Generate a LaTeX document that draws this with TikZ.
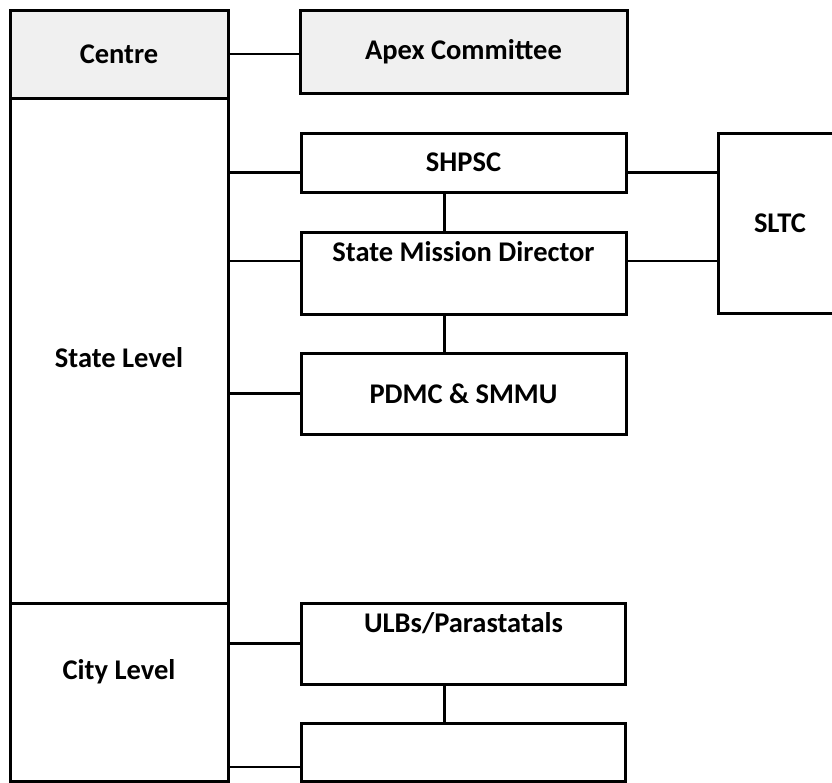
\documentclass[tikz,border=0pt]{standalone}
\usepackage{fontspec}
\setmainfont{Carlito}
\usepackage{tikz}
\usetikzlibrary{calc}

\tikzset{
  unit/.style={draw, line width=3pt, inner sep=0pt, font=\fontsize{28.5}{32}\selectfont\bfseries},
  shaded/.style={unit, fill=gray!12},
  txt/.style={inner sep=0pt, font=\fontsize{28.5}{32}\selectfont\bfseries},
  link/.style={line width=2.6pt}
}

\begin{document}
\begin{tikzpicture}[x=1pt,y=-1pt]
\useasboundingbox (0,0) rectangle (832,782);

\node[shaded, minimum width=218pt, minimum height=88pt] (centre) at (119,54) {Centre};			% Centre
\node[unit, minimum width=218pt, minimum height=505pt] (state) at (119,350.5) {};				% State Level
\node[txt] (statetxt) at (119,358) {State Level};
\node[unit, minimum width=218pt, minimum height=178pt] (city) at (119,692) {};				% City Level
\node[txt] (citytxt) at (119,672) {City Level};

\node[shaded, minimum width=327pt, minimum height=83pt] (apex) at (463.5,51.5) {Apex Committee};	% Apex Committee
\node[unit, minimum width=325pt, minimum height=59pt] (shpsc) at (463.5,162.5) {SHPSC};		% SHPSC
\node[unit, minimum width=325pt, minimum height=82pt] (smd) at (463.5,273) {};				% State Mission Director
\node[txt] (smdtxt) at (463.5,252) {State Mission Director};
\node[unit, minimum width=325pt, minimum height=81pt] (pdmc) at (463.5,393.5) {PDMC \& SMMU};	% PDMC & SMMU
\node[unit, minimum width=124pt, minimum height=180pt] (sltc) at (780,223) {SLTC};			% SLTC (rechts angeschnitten)
\node[unit, minimum width=324pt, minimum height=81pt] (ulbs) at (463.5,643.5) {};			% ULBs/Parastatals
\node[txt] (ulbstxt) at (463.5,623) {ULBs/Parastatals};
\node[unit, minimum width=324pt, minimum height=58pt] (ulbunit) at (463.5,752) {};			% leerer Kasten unten

\coordinate (j1) at ($(shpsc.west)+(0,10)$);		% Hoehe SHPSC-Linien
\coordinate (j2) at ($(smd.west)+(0,-12)$);		% Hoehe SMD-Linien
\coordinate (j3) at ($(ulbunit.west)+(0,15)$);		% Hoehe unterste Linie
\coordinate (v1) at ($(shpsc.south)+(-19,0)$);		% senkrechte Linien

\draw[link] (centre.east) -- (centre.east -| apex.west);				% Centre - Apex
\draw[link] (j1 -| state.east) -- (j1);							% State - SHPSC
\draw[link] (j1 -| shpsc.east) -- (j1 -| sltc.west);					% SHPSC - SLTC
\draw[link] (j2 -| state.east) -- (j2);							% State - SMD
\draw[link] (j2 -| smd.east) -- (j2 -| sltc.west);					% SMD - SLTC
\draw[link] (pdmc.west -| state.east) -- (pdmc.west);					% State - PDMC
\draw[link] (v1) -- (v1 |- smd.north);							% SHPSC - SMD
\draw[link] (v1 |- smd.south) -- (v1 |- pdmc.north);					% SMD - PDMC
\draw[link] (ulbs.west -| city.east) -- (ulbs.west);					% City - ULBs
\draw[link] (j3 -| city.east) -- (j3);							% City - unten
\draw[link] (v1 |- ulbs.south) -- (v1 |- ulbunit.north);				% ULBs - unten

\end{tikzpicture}
\end{document}
